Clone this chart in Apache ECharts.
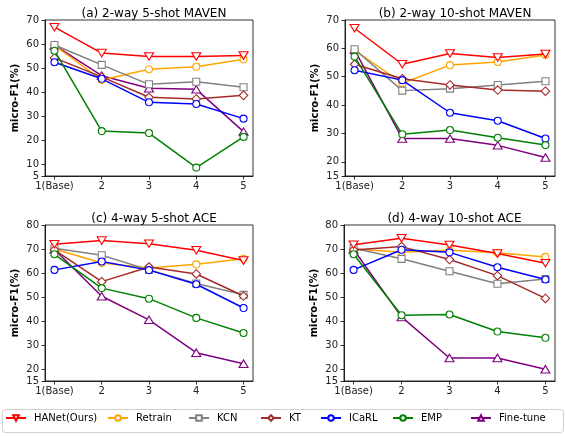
<!DOCTYPE html>
<html>
<head>
<meta charset="utf-8">
<script src="https://cdn.jsdelivr.net/npm/echarts@6/dist/echarts.min.js"></script>
<style>html,body{margin:0;padding:0;background:#fff}#c{width:565px;height:436px}</style>
</head>
<body>
<div id="c"></div>
<script>
const categories = ["1(Base)", "2", "3", "4", "5"];
const seriesNames = ["HANet(Ours)", "Retrain", "KCN", "KT", "ICaRL", "EMP", "Fine-tune"];
const panelTitles = ["(a) 2-way 5-shot MAVEN", "(b) 2-way 10-shot MAVEN", "(c) 4-way 5-shot ACE", "(d) 4-way 10-shot ACE"];

// (a) 2-way 5-shot MAVEN
const a_HANet   = [67.0, 56.2, 54.8, 54.8, 55.2];
const a_Retrain = [59.4, 45.0, 49.5, 50.5, 53.6];
const a_KCN     = [59.6, 51.3, 43.2, 44.3, 42.0];
const a_KT      = [54.2, 46.3, 37.8, 37.1, 38.6];
const a_ICaRL   = [52.4, 45.5, 35.7, 35.0, 28.9];
const a_EMP     = [57.2, 23.7, 22.9, 8.5, 21.3];
const a_Fine    = [59.5, 46.8, 41.6, 41.1, 23.5];

// (b) 2-way 10-shot MAVEN
const b_HANet   = [67.1, 54.4, 58.2, 56.8, 58.0];
const b_Retrain = [59.4, 47.7, 54.1, 55.2, 57.7];
const b_KCN     = [59.7, 45.1, 45.8, 47.1, 48.4];
const b_KT      = [54.4, 49.3, 47.1, 45.3, 44.9];
const b_ICaRL   = [52.3, 48.8, 37.3, 34.5, 28.2];
const b_EMP     = [57.1, 29.7, 31.2, 28.5, 25.9];
const b_Fine    = [59.5, 28.2, 28.2, 25.8, 21.5];

// (c) 4-way 5-shot ACE
const c_HANet   = [72.0, 73.5, 72.2, 69.5, 65.2];
const c_Retrain = [70.0, 64.2, 62.1, 63.6, 65.9];
const c_KCN     = [70.3, 67.4, 61.3, 55.6, 50.9];
const c_KT      = [69.6, 56.4, 62.5, 59.6, 50.4];
const c_ICaRL   = [61.3, 64.8, 61.2, 55.3, 45.4];
const c_EMP     = [67.8, 53.7, 49.3, 41.3, 35.0];
const c_Fine    = [69.8, 50.3, 40.5, 26.8, 22.2];

// (d) 4-way 10-shot ACE
const d_HANet   = [71.8, 74.5, 71.7, 68.1, 64.1];
const d_Retrain = [70.0, 68.6, 69.5, 68.4, 66.7];
const d_KCN     = [70.3, 65.9, 60.7, 55.5, 57.5];
const d_KT      = [69.6, 71.0, 65.6, 58.9, 49.4];
const d_ICaRL   = [61.3, 69.7, 68.6, 62.4, 57.3];
const d_EMP     = [67.8, 42.4, 42.7, 35.6, 33.0];
const d_Fine    = [69.8, 41.7, 24.6, 24.6, 19.9];

const yTicksA = [5, 10, 20, 30, 40, 50, 60, 70];
const yTicksB = [15, 20, 30, 40, 50, 60, 70];
const yTicksC = [15, 20, 30, 40, 50, 60, 70, 80];
const yTicksD = [15, 20, 30, 40, 50, 60, 70, 80];

const panels = [
  {title: panelTitles[0], data: [a_HANet, a_Retrain, a_KCN, a_KT, a_ICaRL, a_EMP, a_Fine], ticks: yTicksA,
   grid: {left: 45, top: 20, width: 208, height: 156}},
  {title: panelTitles[1], data: [b_HANet, b_Retrain, b_KCN, b_KT, b_ICaRL, b_EMP, b_Fine], ticks: yTicksB,
   grid: {left: 345, top: 20, width: 210, height: 156}},
  {title: panelTitles[2], data: [c_HANet, c_Retrain, c_KCN, c_KT, c_ICaRL, c_EMP, c_Fine], ticks: yTicksC,
   grid: {left: 45, top: 225, width: 208, height: 156}},
  {title: panelTitles[3], data: [d_HANet, d_Retrain, d_KCN, d_KT, d_ICaRL, d_EMP, d_Fine], ticks: yTicksD,
   grid: {left: 344, top: 225, width: 211, height: 156}}
];

const colors = ["#ff0000", "#ffa500", "#808080", "#a52a2a", "#0000ff", "#008000", "#800080"];
const symbols = [
  "path://M0,0 L10,0 L5,8.5 Z",
  "circle",
  "rect",
  "path://M5,0 L10,5 L5,10 L0,5 Z",
  "circle",
  "circle",
  "path://M5,0 L10,8.5 L0,8.5 Z"
];
const symSizes = [[9, 7.5], 7, 7, 8.5, 7, 7, [9, 7.5]];
const zOrder = [9, 4, 5, 6, 7, 8, 3];

const chart = echarts.init(document.getElementById('c'), null, {renderer: 'canvas'});
const option = {
  animation: false,
  backgroundColor: '#fff',
  title: [], grid: [], xAxis: [], yAxis: [], series: [], legend: [],
  graphic: [{
    type: 'rect', left: 2, top: 409, z: 0,
    shape: {width: 561, height: 23, r: 3},
    style: {fill: '#fff', stroke: '#d0d0d0', lineWidth: 1}
  }]
};

panels.forEach((p, pi) => {
  const g = p.grid;
  option.grid.push({left: g.left, top: g.top, width: g.width, height: g.height,
    show: true, borderColor: '#000', borderWidth: 0.8, backgroundColor: 'transparent'});
  option.title.push({text: p.title, left: g.left + g.width / 2, top: g.top - 17, textAlign: 'center',
    textStyle: {fontFamily: 'DejaVu Sans', fontSize: 12, fontWeight: 'normal', color: '#000'}});
  option.xAxis.push({
    type: 'value', gridIndex: pi, min: 0.8, max: 5.2,
    splitLine: {show: false},
    axisLine: {show: true, onZero: false, lineStyle: {color: '#000', width: 0.8}},
    axisTick: {show: true, length: 3.5, lineStyle: {color: '#000', width: 0.8}, customValues: [1, 2, 3, 4, 5]},
    axisLabel: {customValues: [1, 2, 3, 4, 5], formatter: v => categories[Math.round(v) - 1],
      fontFamily: 'DejaVu Sans', fontSize: 10, color: '#222', margin: 5}
  });
  option.yAxis.push({
    type: 'value', gridIndex: pi, min: p.ticks[0], max: p.ticks[p.ticks.length - 1],
    name: 'micro-F1(%)', nameLocation: 'middle', nameGap: 25,
    nameTextStyle: {fontFamily: 'DejaVu Sans', fontSize: 10, fontWeight: 'bold', color: '#000'},
    splitLine: {show: false},
    axisLine: {show: true, onZero: false, lineStyle: {color: '#000', width: 0.8}},
    axisTick: {show: true, length: 3.5, lineStyle: {color: '#000', width: 0.8}, customValues: p.ticks},
    axisLabel: {customValues: p.ticks, fontFamily: 'DejaVu Sans', fontSize: 10, color: '#222', margin: 6}
  });
  p.data.forEach((vals, si) => {
    option.series.push({
      type: 'line', name: seriesNames[si], xAxisIndex: pi, yAxisIndex: pi,
      data: categories.map((c, i) => [i + 1, vals[i]]),
      symbol: symbols[si], symbolSize: symSizes[si], showAllSymbol: true,
      lineStyle: {color: colors[si], width: 1.5},
      itemStyle: {color: '#fff', borderColor: colors[si], borderWidth: 1.1},
      z: zOrder[si]
    });
  });
});

const legendLefts = [5, 107, 188, 260, 320, 392, 470];
seriesNames.forEach((n, i) => {
  option.legend.push({
    data: [n], left: legendLefts[i], top: 413, padding: 0, itemWidth: 20, itemHeight: 7,
    selectedMode: false,
    textStyle: {fontFamily: 'DejaVu Sans', fontSize: 10, color: '#000', padding: [0, 0, 0, 3]}
  });
});

chart.setOption(option);
</script>
</body>
</html>
